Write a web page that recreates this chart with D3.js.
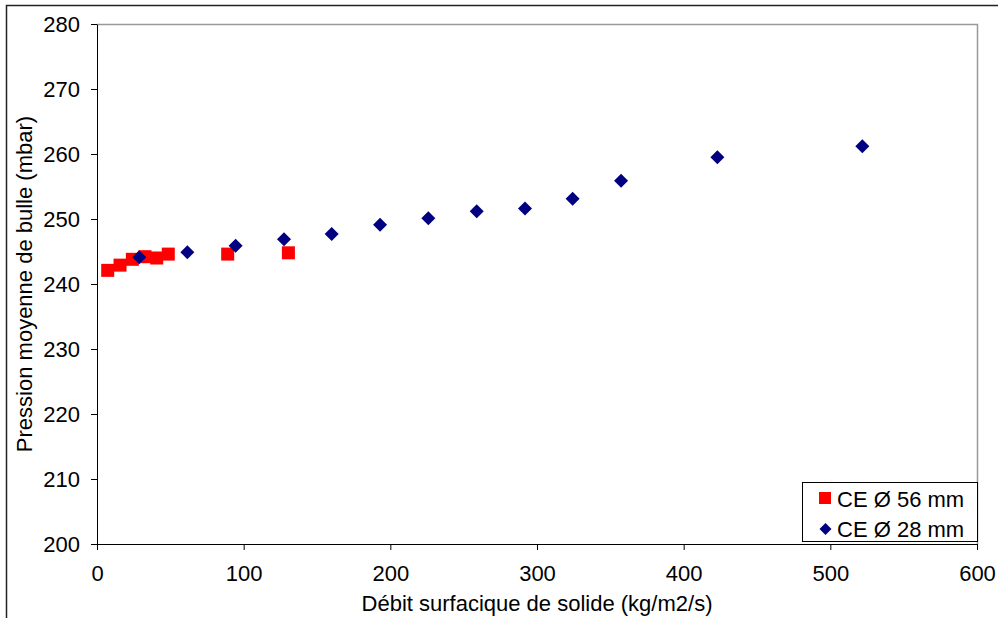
<!DOCTYPE html>
<html><head><meta charset="utf-8">
<script src="https://cdn.jsdelivr.net/npm/d3@7"></script>
<style>body{margin:0;background:#fff;} svg{display:block;font-family:"Liberation Sans",Arial,sans-serif;}</style>
</head><body>
<svg id="c" width="998" height="618"></svg>
<script>
const seriesNames = ["CE Ø 56 mm", "CE Ø 28 mm"];
const x56 = [7.3, 15.7, 24.1, 32.7, 40.7, 48.6, 89.1, 130.5];
const y56 = [242.1, 242.9, 243.8, 244.2, 244.0, 244.6, 244.6, 244.8];
const x28 = [28.8, 61.6, 94.5, 127.5, 160, 193, 225.9, 258.9, 291.8, 324.3, 357.3, 423, 521.8];
const y28 = [244.1, 244.9, 245.9, 246.9, 247.7, 249.1, 250.1, 251.2, 251.6, 253.1, 255.9, 259.5, 261.2];
const xTicks = [0, 100, 200, 300, 400, 500, 600];
const yTicks = [200, 210, 220, 230, 240, 250, 260, 270, 280];

const FS = 22;
const svg = d3.select("#c");
const L = 97, R = 977, T = 24, B = 544;
const x = d3.scaleLinear().domain([0, 600]).range([L, R]);
const y = d3.scaleLinear().domain([200, 280]).range([B, T]);

svg.append("rect").attr("x", 6.5).attr("y", 5.5).attr("width", 1100).attr("height", 700)
  .attr("fill", "none").attr("stroke", "#222").attr("stroke-width", 1.5);

svg.append("path").attr("d", `M${L},${T+0.5}H${R+0.5}V${B}`).attr("fill", "none")
  .attr("stroke", "#999").attr("stroke-width", 1.5);

const yAxis = svg.append("g").attr("transform", `translate(${L},0)`)
  .call(d3.axisLeft(y).tickValues(yTicks).tickSize(6).tickPadding(11).tickSizeOuter(0));
const xAxis = svg.append("g").attr("transform", `translate(0,${B})`)
  .call(d3.axisBottom(x).tickValues(xTicks).tickSize(6).tickPadding(15).tickSizeOuter(0));
[yAxis, xAxis].forEach(g => {
  g.selectAll("text").attr("font-size", FS).attr("fill", "#000").attr("font-family", "Liberation Sans, Arial, sans-serif");
  g.selectAll("line,path").attr("stroke", "#000").attr("stroke-width", 1);
});

svg.append("text").attr("x", 537).attr("y", 611).attr("text-anchor", "middle")
  .attr("font-size", FS).text("Débit surfacique de solide (kg/m2/s)");
svg.append("text").attr("transform", "translate(32,284) rotate(-90)").attr("text-anchor", "middle")
  .attr("font-size", FS).text("Pression moyenne de bulle (mbar)");

const sq = 13;
svg.append("g").selectAll("rect").data(x56.map((v, i) => [v, y56[i]])).join("rect")
  .attr("x", d => x(d[0]) - sq/2).attr("y", d => y(d[1]) - sq/2)
  .attr("width", sq).attr("height", sq).attr("fill", "#ff0000");

const diamond = "M0,-7L7,0L0,7L-7,0Z";
svg.append("g").selectAll("path").data(x28.map((v, i) => [v, y28[i]])).join("path")
  .attr("transform", d => `translate(${x(d[0])},${y(d[1])})`)
  .attr("d", diamond).attr("fill", "#000080");

const lg = svg.append("g");
lg.append("rect").attr("x", 802.5).attr("y", 482.5).attr("width", 175).attr("height", 59)
  .attr("fill", "#fff").attr("stroke", "#000").attr("stroke-width", 1);
lg.append("rect").attr("x", 819).attr("y", 492).attr("width", 12).attr("height", 12).attr("fill", "#ff0000");
lg.append("path").attr("transform", "translate(825.5,529)").attr("d", "M0,-6L6,0L0,6L-6,0Z").attr("fill", "#000080");
lg.append("text").attr("x", 837).attr("y", 507).attr("font-size", FS).text(seriesNames[0]);
lg.append("text").attr("x", 837).attr("y", 537).attr("font-size", FS).text(seriesNames[1]);
</script>
</body></html>
